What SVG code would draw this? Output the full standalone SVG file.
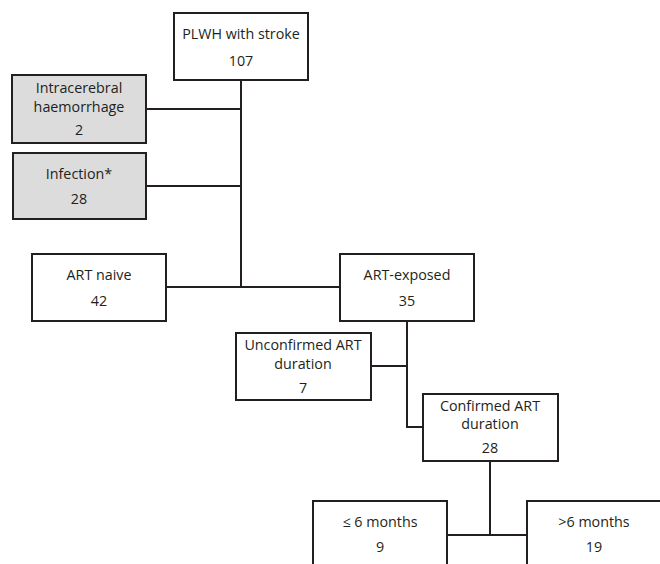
<svg xmlns="http://www.w3.org/2000/svg" width="660" height="564" viewBox="0 0 660 564">
<style>
.box{fill:#fff;stroke:#231f20;stroke-width:2}
.grey{fill:#dcdcdc}
.t{font-family:"Open Sans","Liberation Sans",sans-serif;font-size:14.3px;fill:#231f20;text-anchor:middle}
.c{fill:none;stroke:#231f20;stroke-width:2}
</style>
<rect width="660" height="564" fill="#fff"/>
<g id="connectors">
<path class="c" d="M241 80V288"/>
<path class="c" d="M146 109H241"/>
<path class="c" d="M146 186H241"/>
<path class="c" d="M166 287H340"/>
<path class="c" d="M407 321V427H423"/>
<path class="c" d="M371 366H407"/>
<path class="c" d="M490 461V535"/>
<path class="c" d="M447 535H527"/>
</g>
<g id="plwh">
<rect class="box" x="174" y="13" width="134" height="67"/>
<text class="t" x="241" y="39">PLWH with stroke</text>
<text class="t" x="241" y="66">107</text>
</g>
<g id="ich">
<rect class="box grey" x="12" y="75" width="134" height="68"/>
<text class="t" x="79" y="93">Intracerebral</text>
<text class="t" x="79" y="112">haemorrhage</text>
<text class="t" x="79" y="135">2</text>
</g>
<g id="infection">
<rect class="box grey" x="13" y="153" width="133" height="66"/>
<text class="t" x="79" y="179">Infection*</text>
<text class="t" x="79" y="204">28</text>
</g>
<g id="naive">
<rect class="box" x="32" y="254" width="134" height="67"/>
<text class="t" x="99" y="280">ART naive</text>
<text class="t" x="99" y="306">42</text>
</g>
<g id="exposed">
<rect class="box" x="340" y="254" width="134" height="67"/>
<text class="t" x="407" y="280">ART-exposed</text>
<text class="t" x="407" y="306">35</text>
</g>
<g id="unconfirmed">
<rect class="box" x="236" y="333" width="135" height="67"/>
<text class="t" x="303" y="350">Unconfirmed ART</text>
<text class="t" x="303" y="369">duration</text>
<text class="t" x="303" y="393">7</text>
</g>
<g id="confirmed">
<rect class="box" x="423" y="394" width="135" height="67"/>
<text class="t" x="490" y="411">Confirmed ART</text>
<text class="t" x="490" y="429">duration</text>
<text class="t" x="490" y="453">28</text>
</g>
<g id="le6">
<rect class="box" x="313" y="501" width="134" height="70"/>
<text class="t" x="380" y="527">≤ 6 months</text>
<text class="t" x="380" y="552">9</text>
</g>
<g id="gt6">
<rect class="box" x="527" y="501" width="134" height="70"/>
<text class="t" x="594" y="527">&gt;6 months</text>
<text class="t" x="594" y="552">19</text>
</g>
</svg>
